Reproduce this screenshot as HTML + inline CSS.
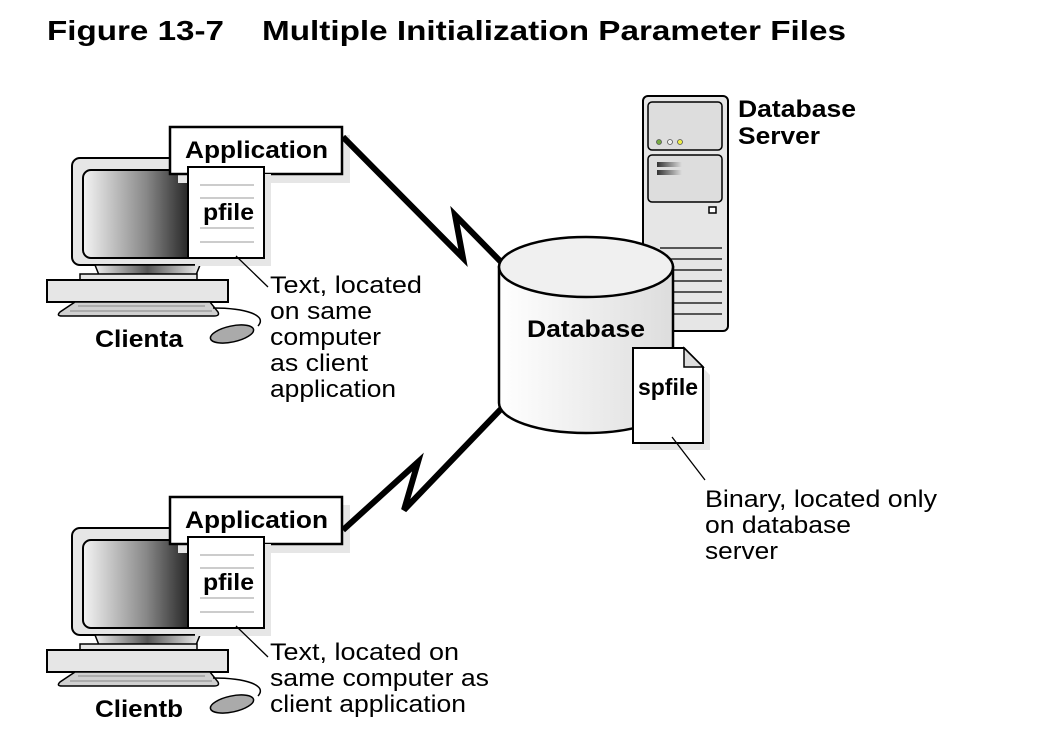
<!DOCTYPE html>
<html><head><meta charset="utf-8"><style>
html,body{margin:0;padding:0;background:#fff;}
svg{display:block;font-family:"Liberation Sans",sans-serif;}
</style></head><body>
<svg width="1053" height="747" viewBox="0 0 1053 747" xmlns="http://www.w3.org/2000/svg">
<defs>
<linearGradient id="scr" x1="0" x2="1" y1="0" y2="0">
<stop offset="0" stop-color="#f4f4f4"/><stop offset="0.55" stop-color="#888"/><stop offset="1" stop-color="#111"/></linearGradient>
<linearGradient id="stand" x1="0" x2="1"><stop offset="0" stop-color="#eee"/><stop offset="0.5" stop-color="#555"/><stop offset="1" stop-color="#eee"/></linearGradient>
<linearGradient id="cyl" x1="0" x2="1"><stop offset="0" stop-color="#fff"/><stop offset="1" stop-color="#ddd"/></linearGradient>
<linearGradient id="drv" x1="0" x2="1"><stop offset="0" stop-color="#333"/><stop offset="1" stop-color="#ddd"/></linearGradient>
<g id="client">
 <rect x="72" y="158" width="135" height="107" rx="8" fill="#e6e6e6" stroke="#000" stroke-width="2"/>
 <rect x="83" y="170" width="115" height="88" rx="8" fill="url(#scr)" stroke="#000" stroke-width="2"/>
 <path d="M95 265 L200 265 L196 275 L99 275 Z" fill="url(#stand)" stroke="#000" stroke-width="1.5"/>
 <rect x="80" y="274" width="117" height="6" fill="#e6e6e6" stroke="#000" stroke-width="1.5"/>
 <rect x="47" y="280" width="181" height="22" fill="#e6e6e6" stroke="#000" stroke-width="2"/>
 <path d="M75 302 L210 302 L218 312 Q220 316 214 316 L62 316 Q56 316 60 312 Z" fill="#d0d0d0" stroke="#000" stroke-width="1.5"/>
 <line x1="78" y1="306" x2="205" y2="306" stroke="#888" stroke-width="1"/>
 <line x1="70" y1="311" x2="212" y2="311" stroke="#888" stroke-width="1"/>
 <path d="M213 308 C245 308 268 315 258 326" fill="none" stroke="#000" stroke-width="1.5"/>
 <ellipse cx="232" cy="334" rx="22" ry="8" transform="rotate(-12 232 334)" fill="#aaa" stroke="#000" stroke-width="1.5"/>
 <rect x="178" y="135" width="172" height="48" fill="#e6e6e6"/>
 <rect x="170" y="127" width="172" height="47" fill="#fff" stroke="#000" stroke-width="2.5"/>
 <text x="185" y="158" font-size="24" font-weight="bold" textLength="143" lengthAdjust="spacingAndGlyphs">Application</text>
 <rect x="195" y="174" width="76" height="92" fill="#e6e6e6"/>
 <rect x="188" y="167" width="76" height="91" fill="#fff" stroke="#000" stroke-width="2"/>
 <g stroke="#999" stroke-width="1"><line x1="200" y1="185" x2="254" y2="185"/><line x1="200" y1="198" x2="254" y2="198"/><line x1="200" y1="228" x2="254" y2="228"/><line x1="200" y1="242" x2="254" y2="242"/></g>
 <text x="203" y="220" font-size="23" font-weight="bold" textLength="51" lengthAdjust="spacingAndGlyphs">pfile</text>
 <line x1="236" y1="256" x2="268" y2="287" stroke="#000" stroke-width="1.3"/>
</g>
</defs>
<text x="47" y="40" font-size="28" font-weight="bold" textLength="177" lengthAdjust="spacingAndGlyphs">Figure 13-7</text>
<text x="262" y="40" font-size="28" font-weight="bold" textLength="584" lengthAdjust="spacingAndGlyphs">Multiple Initialization Parameter Files</text>

<use href="#client"/>
<text x="95" y="347" font-size="24" font-weight="bold" textLength="88" lengthAdjust="spacingAndGlyphs">Clienta</text>
<use href="#client" transform="translate(0,370)"/>
<text x="95" y="717" font-size="24" font-weight="bold" textLength="88" lengthAdjust="spacingAndGlyphs">Clientb</text>

<!-- connectors -->
<polyline points="343,137 463,258 455,215 503,264" fill="none" stroke="#000" stroke-width="6" stroke-linejoin="miter"/>
<polyline points="501,409 404,510 418,462 343,530" fill="none" stroke="#000" stroke-width="6" stroke-linejoin="miter"/>

<!-- server -->
<rect x="643" y="96" width="85" height="235" rx="5" fill="#e6e6e6" stroke="#000" stroke-width="2"/>
<rect x="648" y="102" width="74" height="48" rx="4" fill="#ddd" stroke="#000" stroke-width="1.5"/>
<circle cx="659" cy="142" r="2.5" fill="#7a4" stroke="#555" stroke-width="0.8"/>
<circle cx="670" cy="142" r="2.5" fill="#eee" stroke="#555" stroke-width="0.8"/>
<circle cx="680" cy="142" r="2.5" fill="#ee4" stroke="#555" stroke-width="0.8"/>
<rect x="648" y="155" width="74" height="47" rx="4" fill="#ddd" stroke="#000" stroke-width="1.5"/>
<rect x="657" y="162" width="25" height="5" fill="url(#drv)"/>
<rect x="657" y="170" width="25" height="5" fill="url(#drv)"/>
<rect x="709" y="207" width="7" height="6" fill="#fff" stroke="#000" stroke-width="1.5"/>
<g stroke="#000" stroke-width="1.2">
<line x1="660" y1="248" x2="722" y2="248"/><line x1="660" y1="259" x2="722" y2="259"/><line x1="660" y1="270" x2="722" y2="270"/><line x1="660" y1="281" x2="722" y2="281"/><line x1="660" y1="292" x2="722" y2="292"/><line x1="660" y1="303" x2="722" y2="303"/><line x1="660" y1="314" x2="722" y2="314"/></g>
<text x="738" y="117" font-size="24" font-weight="bold" textLength="118" lengthAdjust="spacingAndGlyphs">Database</text>
<text x="738" y="144" font-size="24" font-weight="bold" textLength="82" lengthAdjust="spacingAndGlyphs">Server</text>

<!-- cylinder -->
<path d="M499 267 L499 403 A87 30 0 0 0 673 403 L673 267 Z" fill="url(#cyl)" stroke="#000" stroke-width="2.5"/>
<ellipse cx="586" cy="267" rx="87" ry="30" fill="#f0f0f0" stroke="#000" stroke-width="2.5"/>
<text x="527" y="337" font-size="24" font-weight="bold" textLength="118" lengthAdjust="spacingAndGlyphs">Database</text>

<!-- spfile -->
<path d="M640 355 L690 355 L710 375 L710 450 L640 450 Z" fill="#e6e6e6"/>
<path d="M633 348 L684 348 L703 367 L703 443 L633 443 Z" fill="#fff" stroke="#000" stroke-width="2"/>
<path d="M684 348 L684 367 L703 367 Z" fill="#ddd" stroke="#000" stroke-width="1.5"/>
<text x="638" y="395" font-size="23" font-weight="bold" textLength="60" lengthAdjust="spacingAndGlyphs">spfile</text>
<line x1="672" y1="437" x2="705" y2="480" stroke="#000" stroke-width="1.3"/>

<g font-size="24" lengthAdjust="spacingAndGlyphs">
<text x="270" y="293" textLength="152" lengthAdjust="spacingAndGlyphs">Text, located</text>
<text x="270" y="319" textLength="102" lengthAdjust="spacingAndGlyphs">on same</text>
<text x="270" y="345" textLength="111" lengthAdjust="spacingAndGlyphs">computer</text>
<text x="270" y="371" textLength="98" lengthAdjust="spacingAndGlyphs">as client</text>
<text x="270" y="397" textLength="126" lengthAdjust="spacingAndGlyphs">application</text>
<text x="270" y="660" textLength="189" lengthAdjust="spacingAndGlyphs">Text, located on</text>
<text x="270" y="686" textLength="219" lengthAdjust="spacingAndGlyphs">same computer as</text>
<text x="270" y="712" textLength="196" lengthAdjust="spacingAndGlyphs">client application</text>
<text x="705" y="507" textLength="232" lengthAdjust="spacingAndGlyphs">Binary, located only</text>
<text x="705" y="533" textLength="146" lengthAdjust="spacingAndGlyphs">on database</text>
<text x="705" y="559" textLength="73" lengthAdjust="spacingAndGlyphs">server</text>
</g>
</svg>
</body></html>
